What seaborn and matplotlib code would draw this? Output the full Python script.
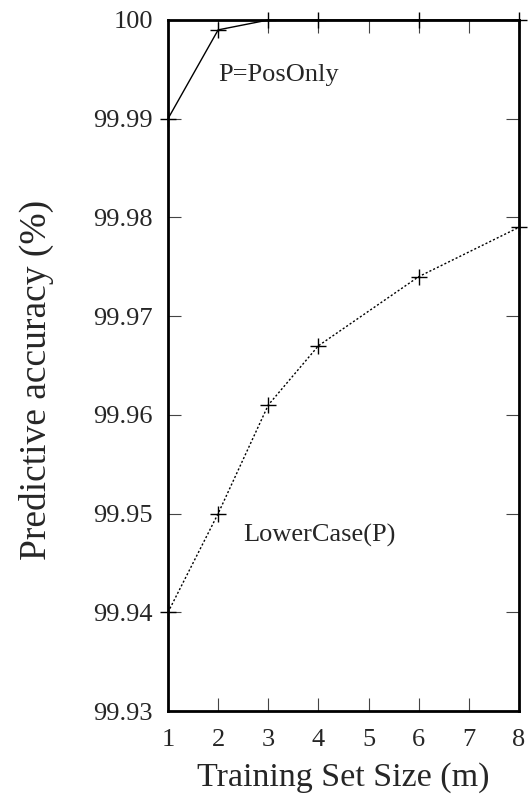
import numpy as np
import pandas as pd
import seaborn as sns
import matplotlib.pyplot as plt

# data
pos_x = [1, 2, 3, 4, 6, 8]
pos_y = [99.99, 99.999, 100.0, 100.0, 100.0, 100.0]
lower_x = [1, 2, 3, 4, 6, 8]
lower_y = [99.94, 99.95, 99.961, 99.967, 99.974, 99.979]

x_ticks = [1, 2, 3, 4, 5, 6, 7, 8]
y_ticks = [99.93, 99.94, 99.95, 99.96, 99.97, 99.98, 99.99, 100.0]
y_tick_labels = ["99.93", "99.94", "99.95", "99.96", "99.97", "99.98", "99.99", "100"]


def main():
    sns.set_style("ticks")
    plt.rcParams["font.family"] = ["Liberation Serif", "DejaVu Serif"]

    fig = plt.figure(figsize=(5.31, 7.99), dpi=100)
    ax = fig.add_axes([168 / 531, 88 / 799, 351 / 531, 691 / 799])

    pos_df = pd.DataFrame({"m": pos_x, "acc": pos_y})
    lower_df = pd.DataFrame({"m": lower_x, "acc": lower_y})

    marker_kws = dict(marker="+", markersize=11, markeredgewidth=1.0,
                      markeredgecolor="black", markerfacecolor="black")
    sns.lineplot(data=pos_df, x="m", y="acc", ax=ax, color="black", linewidth=1.0,
                 clip_on=False, **marker_kws)
    sns.lineplot(data=lower_df, x="m", y="acc", ax=ax, color="black", linewidth=1.0,
                 linestyle=(0, (1.5, 1.5)), clip_on=False, **marker_kws)

    ax.set_xlim(1, 8)
    ax.set_ylim(99.93, 100.0)
    ax.set_xticks(x_ticks)
    ax.set_yticks(y_ticks)
    ax.set_yticklabels(y_tick_labels)

    ax.tick_params(direction="in", top=True, right=True, length=9.5, width=0.8,
                   labelsize=19, color="#444444")
    ax.tick_params(axis="x", pad=13)
    ax.tick_params(axis="y", pad=11)
    for s in ax.spines.values():
        s.set_linewidth(2.0)
        s.set_color("black")

    ax.set_xlabel("Training Set Size (m)", fontsize=24.5, labelpad=8)
    ax.set_ylabel("Predictive accuracy (%)", fontsize=27)
    ax.yaxis.set_label_coords(-0.325, 0.479)

    ax.text(2.0, 99.9944, "P=PosOnly", fontsize=19, ha="left", va="center")
    ax.text(2.5, 99.9478, "LowerCase(P)", fontsize=19, ha="left", va="center")

    fig.savefig("out.png", dpi=100)
    plt.close(fig)


if __name__ == "__main__":
    main()
